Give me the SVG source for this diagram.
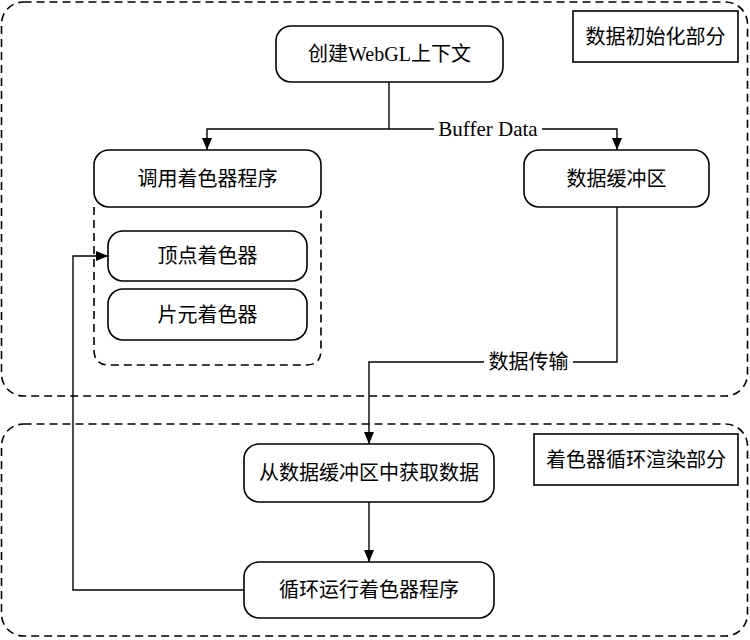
<svg xmlns="http://www.w3.org/2000/svg" width="750" height="640" viewBox="0 0 750 640">
<defs>
<marker id="ah" viewBox="0 0 12 12" refX="12" refY="6" markerWidth="12" markerHeight="12" markerUnits="userSpaceOnUse" orient="auto">
<path d="M0,1 L12,6 L0,11 Z" fill="#000"/>
</marker>
<style>
.node{fill:#fff;stroke:#000;stroke-width:1.6}
.dash{fill:none;stroke:#000;stroke-width:1.6;stroke-dasharray:8,5}
.title{fill:#fff;stroke:#000;stroke-width:1.6}
.t{font-family:"Liberation Serif","Noto Sans CJK SC",serif;font-size:20px;fill:#000;text-anchor:middle;dominant-baseline:central}
.c{fill:none;stroke:#000;stroke-width:1.4}
</style>
</defs>
<rect width="750" height="640" fill="#fff"/>
<g id="section-init">
<rect class="dash" x="1.5" y="2" width="746" height="394" rx="22"/>
</g>
<g id="section-render">
<rect class="dash" x="1.5" y="424" width="746" height="212" rx="22"/>
</g>
<g id="title-init">
<rect class="title" x="573" y="11" width="165" height="51"/>
<text class="t" x="655.5" y="37">数据初始化部分</text>
</g>
<g id="title-render">
<rect class="title" x="534" y="434" width="204" height="51"/>
<text class="t" x="636" y="460">着色器循环渲染部分</text>
</g>
<g id="shader-group">
<path class="dash" d="M94,207 V350 Q94,365 109,365 H306 Q321,365 321,350 V207"/>
</g>
<g id="n-webgl">
<rect class="node" x="276" y="26" width="227" height="56" rx="15"/>
<text class="t" x="389.5" y="54">创建WebGL上下文</text>
</g>
<g id="n-shader">
<rect class="node" x="94" y="150" width="227" height="57" rx="15"/>
<text class="t" x="207.5" y="179">调用着色器程序</text>
</g>
<g id="n-buffer">
<rect class="node" x="524" y="150" width="185" height="57" rx="15"/>
<text class="t" x="616.5" y="179">数据缓冲区</text>
</g>
<g id="n-vertex">
<rect class="node" x="108" y="231" width="199" height="50" rx="15"/>
<text class="t" x="207.5" y="256">顶点着色器</text>
</g>
<g id="n-fragment">
<rect class="node" x="108" y="289" width="199" height="51" rx="15"/>
<text class="t" x="207.5" y="315">片元着色器</text>
</g>
<g id="n-fetch">
<rect class="node" x="244" y="444" width="250" height="58" rx="15"/>
<text class="t" x="369" y="473">从数据缓冲区中获取数据</text>
</g>
<g id="n-loop">
<rect class="node" x="244" y="562" width="250" height="56" rx="15"/>
<text class="t" x="369" y="590">循环运行着色器程序</text>
</g>
<g id="connectors">
<path class="c" d="M389,82 V129"/>
<path class="c" d="M389,129 H207 V150" marker-end="url(#ah)"/>
<path class="c" d="M389,129 H434"/>
<path class="c" d="M542,129 H617 V150" marker-end="url(#ah)"/>
<text class="t" x="488" y="129" style="font-size:21px">Buffer Data</text>
<path class="c" d="M617,207 V362 H573"/>
<path class="c" d="M484,362 H369 V444" marker-end="url(#ah)"/>
<text class="t" x="528.5" y="362">数据传输</text>
<path class="c" d="M369,502 V562" marker-end="url(#ah)"/>
<path class="c" d="M244,590 H73 V256 H108" marker-end="url(#ah)"/>
</g>
</svg>
